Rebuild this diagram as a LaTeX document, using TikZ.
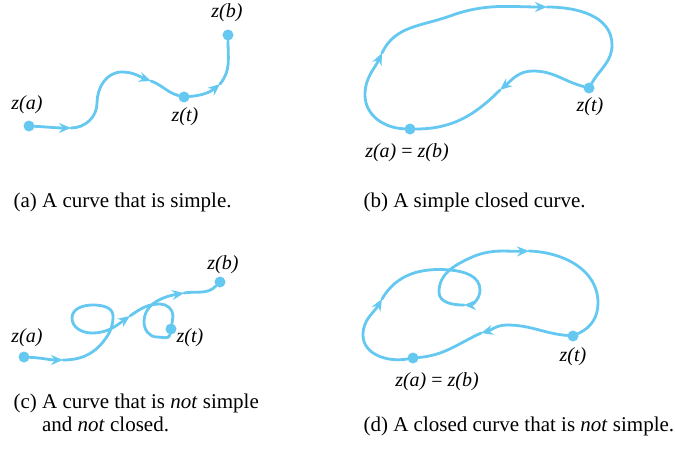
\documentclass[tikz,border=0pt]{standalone}
\usepackage{fontspec}
\setmainfont{Liberation Serif}
\usetikzlibrary{arrows.meta}
\definecolor{crvblue}{RGB}{100,200,240}
\tikzset{
  crv/.style={line width=2.8pt,crvblue,line cap=round},
  arr/.style={crv,-{Stealth[length=12pt,width=10pt,inset=4pt]}},
  dot/.style={circle,fill=crvblue,inner sep=0pt,minimum size=11pt},
  lbl/.style={font=\fontsize{20}{22}\selectfont\itshape},
  capt/.style={anchor=base west,align=left,font=\fontsize{21}{23}\selectfont}
}

\begin{document}
\begin{tikzpicture}[x=1pt,y=1pt]
\useasboundingbox (0,0) rectangle (675,-463);
% (a)
\node[dot] (za1) at (29,-126) {};
\node[dot] (zt1) at (184,-97) {};
\node[dot] (zb1) at (228,-35) {};
\coordinate (a1) at (71,-128);
\coordinate (a2) at (151,-81);
\coordinate (a3) at (220,-84);
\draw[arr] (za1) to[out=-3,in=180] (a1);
\draw[arr] (a1) to[out=0,in=-90] (97,-103) to[out=90,in=180] (122,-72) to[out=0,in=160] (a2);
\draw[crv] (a2) to[out=-20,in=165] (zt1);
\draw[arr] (zt1) to[out=5,in=-140] (a3);
\draw[crv] (a3) to[out=50,in=-90] (zb1);
\node[lbl] (la1) at (27,-105) {z(a)};
\node[lbl] (lt1) at (185,-117) {z(t)};
\node[lbl] (lb1) at (227,-13) {z(b)};
\node[capt] (capa) at (10,-207) {(a) A curve that is simple.};
% (b)
\node[dot] (zab2) at (410,-129) {};
\node[dot] (zt2) at (589,-88) {};
\coordinate (b1) at (382,-53);
\coordinate (b2) at (547,-7);
\coordinate (b3) at (500,-90);
\draw[arr] (zab2) to[out=178,in=-90] (365,-95) to[out=90,in=-115] (b1);
\draw[arr] (b1) to[out=65,in=200] (450,-16) to[out=20,in=180] (b2);
\draw[crv] (b2) to[out=0,in=90] (612,-45) to[out=-90,in=60] (zt2);
\draw[arr] (zt2) to[out=165,in=0] (533,-71) to[out=180,in=40] (b3);
\draw[crv] (b3) to[out=-135,in=0] (zab2);
\node[lbl] (lt2) at (590,-107) {z(t)};
\node[lbl] (lab2) at (407,-153) {z(a) \textup{=} z(b)};
\node[capt] (capb) at (360,-207) {(b) A simple closed curve.};
% (c)
\node[dot] (za3) at (24,-357) {};
\node[dot] (zt3) at (171,-329) {};
\node[dot] (zb3) at (220,-282) {};
\coordinate (c1) at (63,-360);
\coordinate (c2) at (130,-316);
\coordinate (c3) at (184,-293);
\draw[arr] (za3) to[out=-3,in=180] (c1);
\draw[arr] (c1) to[out=0,in=-125] (106,-338) to[out=55,in=-90] (113,-316) to[out=90,in=0] (93,-305)
  to[out=180,in=90] (72,-318) to[out=-90,in=180] (92,-333) to[out=0,in=-145] (c2);
\draw[crv] (c2) to[out=35,in=180] (160,-304) to[out=0,in=90] (173,-316) to[out=-90,in=80] (zt3);
\draw[arr] (zt3) to[out=-100,in=0] (157,-337) to[out=180,in=-90] (144,-322) to[out=90,in=190] (c3);
\draw[crv] (c3) to[out=10,in=-135] (zb3);
\node[lbl] (la3) at (27,-338) {z(a)};
\node[lbl] (lt3) at (190,-338) {z(t)};
\node[lbl] (lb3) at (223,-265) {z(b)};
\node[capt] (capc) at (10,-431) {(c) A curve that is \textit{not} simple\\\phantom{(c) }and \textit{not} closed.};
% (d)
\node[dot] (zab4) at (413,-358) {};
\node[dot] (zt4) at (573,-336) {};
\coordinate (d1) at (382,-299);
\coordinate (d2) at (464,-305);
\coordinate (d3) at (529,-251);
\coordinate (d4) at (481,-333);
\draw[arr] (zab4) to[out=190,in=-90] (363,-335) to[out=90,in=-120] (d1);
\draw[arr] (d1) to[out=60,in=175] (450,-270) to[out=-5,in=90] (480,-290) to[out=-90,in=0] (d2);
\draw[arr] (d2) to[out=180,in=-90] (439,-292) to[out=90,in=205] (470,-258) to[out=25,in=182] (d3);
\draw[crv] (d3) to[out=-2,in=90] (598,-303) to[out=-90,in=25] (zt4);
\draw[arr] (zt4) to[out=175,in=0] (507,-325) to[out=180,in=15] (d4);
\draw[crv] (d4) to[out=205,in=5] (zab4);
\node[lbl] (lt4) at (573,-357) {z(t)};
\node[lbl] (lab4) at (437,-382) {z(a) \textup{=} z(b)};
\node[capt] (capd) at (360,-431) {(d) A closed curve that is \textit{not} simple.};
\end{tikzpicture}
\end{document}
